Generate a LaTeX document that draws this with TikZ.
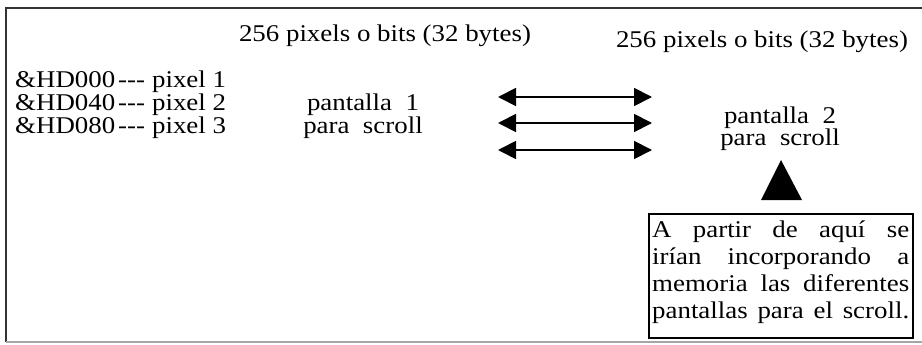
\documentclass[tikz,border=0pt]{standalone}
\usepackage{fontspec}
\setmainfont{Liberation Serif}[FakeStretch=1.12]
\usetikzlibrary{arrows.meta}
\tikzset{
  txt/.style={inner sep=0pt, font=\fontsize{24}{19}\selectfont},
  dblarrow/.style={line width=1.8pt, {Triangle[length=18pt,width=18pt]}-{Triangle[length=18pt,width=18pt]}},
  frameline/.style={line width=1.8pt, draw=black!80},
}
\begin{document}
\begin{tikzpicture}[x=1pt,y=-1pt]
\useasboundingbox (0,0) rectangle (922,345);
% outer frame
\draw[frameline] (922,8) -- (6,8) -- (6,342);
\draw[line width=1.5pt, draw=black!35] (6,342) -- (922,342);
% headers
\node[txt, anchor=base] (h1) at (385,42) {256 pixels o bits (32 bytes)};
\node[txt, anchor=base] (h2) at (762,48) {256 pixels o bits (32 bytes)};
% addresses
\node[txt, anchor=base west, align=left] (px) at (15,133)
  {\&HD000\kern3pt-{}-{}-\kern7pt pixel 1\\ \&HD040\kern3pt-{}-{}-\kern7pt pixel 2\\ \&HD080\kern3pt-{}-{}-\kern7pt pixel 3};
% screen 1
\node[txt, anchor=base, align=center] (s1) at (363,133) {pantalla\ \ 1\\ para\ \ scroll};
% screen 2
\node[txt, anchor=base, align=center, font=\fontsize{24}{20}\selectfont] (s2) at (780,146) {pantalla\ \ 2\\ para\ \ scroll};
% arrows
\coordinate (a1l) at (498,97);  \coordinate (a1r) at (652,97);
\coordinate (a2l) at (498,123); \coordinate (a2r) at (652,123);
\coordinate (a3l) at (498,150); \coordinate (a3r) at (652,150);
\draw[dblarrow] (a1l) -- (a1r);
\draw[dblarrow] (a2l) -- (a2r);
\draw[dblarrow] (a3l) -- (a3r);
% pointer triangle
\fill (781,160) -- (802,200) -- (761,200) -- cycle;
% note box
\node[draw, line width=1.5pt, inner sep=0pt, minimum width=264pt, minimum height=124pt, anchor=north west] (box) at (648,213) {};
\node[txt, anchor=north west, align=left, font=\fontsize{24}{27}\selectfont] (note) at (652,221) {%
\makebox[257pt][s]{A partir de aquí se}\\
\makebox[257pt][s]{irían incorporando a}\\
\makebox[257pt][s]{memoria las diferentes}\\
\makebox[257pt][s]{pantallas para el scroll.}};
\end{tikzpicture}
\end{document}
